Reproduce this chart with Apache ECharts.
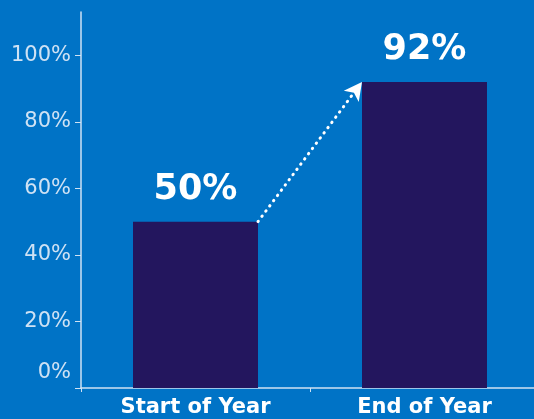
<!DOCTYPE html>
<html><head><meta charset="utf-8">
<script src="https://cdn.jsdelivr.net/npm/echarts@6/dist/echarts.min.js"></script>
<style>html,body{margin:0;padding:0;background:#0073c6;}#c{width:534px;height:419px;}</style>
</head><body><div id="c"></div>
<script>
const categories = ['Start of Year', 'End of Year'];
const values = [50, 92];
const yTicks = [0, 20, 40, 60, 80, 100];

const chart = echarts.init(document.getElementById('c'));
const light = '#cfe2f4';
chart.setOption({
  backgroundColor: '#0073c6',
  animation: false,
  grid: {left: 81, width: 458, top: 12, bottom: 31, outerBoundsMode: 'none', containLabel: false},
  xAxis: {
    type: 'category', data: categories,
    axisLine: {lineStyle: {color: light, width: 1.5}},
    axisTick: {show: true, length: 4, lineStyle: {color: light}},
    axisLabel: {color: '#ffffff', fontFamily: 'DejaVu Sans', fontWeight: 'bold', fontSize: 21, margin: 9}
  },
  yAxis: {
    type: 'value', min: 0, max: 113,
    splitLine: {show: false},
    axisLine: {show: true, lineStyle: {color: light, width: 1.5}},
    axisTick: {show: true, length: 6, customValues: yTicks, lineStyle: {color: light}},
    axisLabel: {
      customValues: yTicks, color: light, fontFamily: 'DejaVu Sans', fontSize: 21, margin: 10,
      formatter: v => v === 0 ? '{z|0%}' : v + '%',
      rich: {z: {color: light, fontFamily: 'DejaVu Sans', fontSize: 21, padding: [0, 0, 30, 0]}}
    }
  },
  series: [{
    type: 'bar', data: values, barWidth: 125,
    itemStyle: {color: '#23165e'},
    label: {show: true, position: 'top', distance: 14, formatter: '{c}%', color: '#ffffff',
      fontFamily: 'DejaVu Sans', fontWeight: 'bold', fontSize: 35}
  }]
});

const p0 = chart.convertToPixel({seriesIndex: 0}, [0, values[0]]);
const p1 = chart.convertToPixel({seriesIndex: 0}, [1, values[1]]);
const half = 62.5;
chart.setOption({
  series: [{
    markLine: {
      silent: true, animation: false,
      symbol: ['none', 'arrow'], symbolSize: [14, 18],
      label: {show: false},
      lineStyle: {color: '#ffffff', width: 3, type: [0.5, 6], cap: 'round'},
      data: [[{x: p0[0] + half, y: p0[1]}, {x: p1[0] - half, y: p1[1]}]]
    }
  }]
});
</script></body></html>
